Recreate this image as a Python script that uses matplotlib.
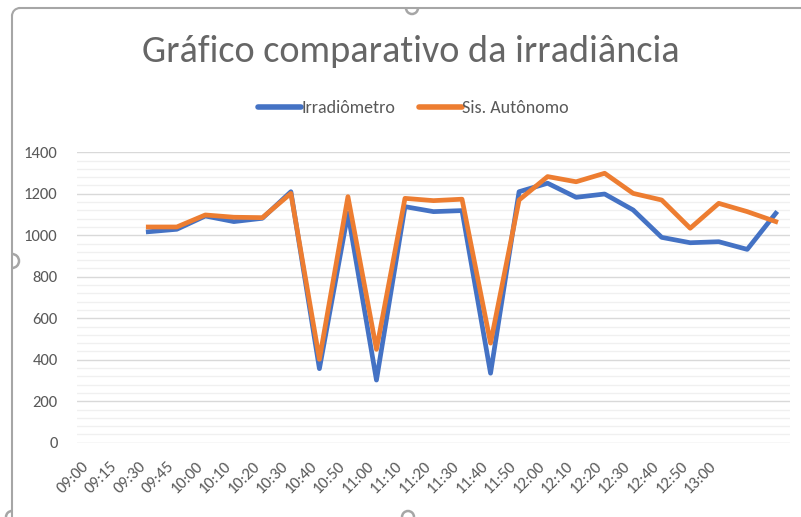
import matplotlib.pyplot as plt
from matplotlib.lines import Line2D
from matplotlib.patches import Arc
from matplotlib.transforms import IdentityTransform
from matplotlib.ticker import MultipleLocator

plt.rcParams['font.family'] = ['Carlito', 'Liberation Sans Narrow', 'DejaVu Sans']

# time slots on the category axis (last two slots carry no label)
horarios = ["09:00", "09:15", "09:30", "09:45", "10:00", "10:10", "10:20", "10:30",
            "10:40", "10:50", "11:00", "11:10", "11:20", "11:30", "11:40", "11:50",
            "12:00", "12:10", "12:20", "12:30", "12:40", "12:50", "13:00", "", ""]

# irradiance readings, W/m2 (first two slots empty)
irradiometro = [None, None, 1017, 1029, 1093, 1066, 1082, 1210, 357, 1106, 302,
                1138, 1114, 1119, 335, 1210, 1251, 1183, 1199, 1122, 990, 964,
                969, 932, 1106]
sis_autonomo = [None, None, 1040, 1040, 1098, 1087, 1085, 1202, 402, 1186, 450,
                1178, 1167, 1174, 480, 1170, 1283, 1258, 1299, 1202, 1170, 1034,
                1154, 1114, 1066]

AZUL = '#4472C4'
LARANJA = '#ED7D31'
CINZA = '#595959'

fig = plt.figure(figsize=(8.01, 5.17), dpi=100)
ax = fig.add_axes([0.0961, 0.1437, 0.8902, 0.5617])

x = list(range(len(horarios)))
ax.plot(x, [float('nan') if v is None else v for v in irradiometro],
        color=AZUL, lw=3.4, solid_joinstyle='round', label='Irradiômetro', zorder=3)
ax.plot(x, [float('nan') if v is None else v for v in sis_autonomo],
        color=LARANJA, lw=3.4, solid_joinstyle='round', label='Sis. Autônomo', zorder=4)

ax.set_xlim(-0.5, len(horarios) - 0.5)
ax.set_ylim(0, 1400)
ax.yaxis.set_major_locator(MultipleLocator(200))
ax.yaxis.set_minor_locator(MultipleLocator(40))
ax.grid(which='major', axis='y', color='#d9d9d9', lw=1.0, zorder=0)
ax.grid(which='minor', axis='y', color='#f0f0f0', lw=1.0, zorder=0)
ax.set_axisbelow(True)
for s in ax.spines.values():
    s.set_visible(False)

ax.set_xticks(x)
ax.set_xticklabels(horarios, rotation=45, ha='right', va='top')
ax.tick_params(axis='x', length=0, pad=12, labelsize=12, labelcolor=CINZA)
ax.tick_params(axis='y', which='both', length=0, pad=14, labelsize=12, labelcolor=CINZA)

fig.text(0.513, 0.901, 'Gráfico comparativo da irradiância', ha='center', va='center',
         fontsize=27.5, color='#666666')

fig.legend(loc='center', bbox_to_anchor=(0.516, 0.791), ncol=2, frameon=False,
           fontsize=13, labelcolor=CINZA, handlelength=2.4, handletextpad=0.0,
           columnspacing=1.3)
for h in fig.legends[0].get_lines():
    h.set_solid_capstyle('round')
    h.set_linewidth(4)

# chart frame with selection handles
borda = '#a6a6a6'
W, H = 801, 517
pix = IdentityTransform()
fig.add_artist(Line2D([20, W], [H - 8, H - 8], transform=pix, color=borda, lw=1.5))
fig.add_artist(Line2D([12, 12], [0, H - 16], transform=pix, color=borda, lw=1.5))
fig.add_artist(Arc((20, H - 16), 16, 16, theta1=90, theta2=180, transform=pix,
                   color=borda, lw=1.5))
fig.add_artist(Arc((412, H - 8), 12, 12, theta1=180, theta2=360, transform=pix,
                   color=borda, lw=1.8))
fig.add_artist(Arc((12, H - 261), 14, 14, theta1=-90, theta2=90, transform=pix,
                   color=borda, lw=1.8))
fig.add_artist(Arc((408, 0), 12, 12, theta1=0, theta2=180, transform=pix,
                   color=borda, lw=1.8))
fig.add_artist(Arc((12, 0), 12, 12, theta1=90, theta2=180, transform=pix,
                   color=borda, lw=1.8))

fig.savefig('out.png', dpi=100)
